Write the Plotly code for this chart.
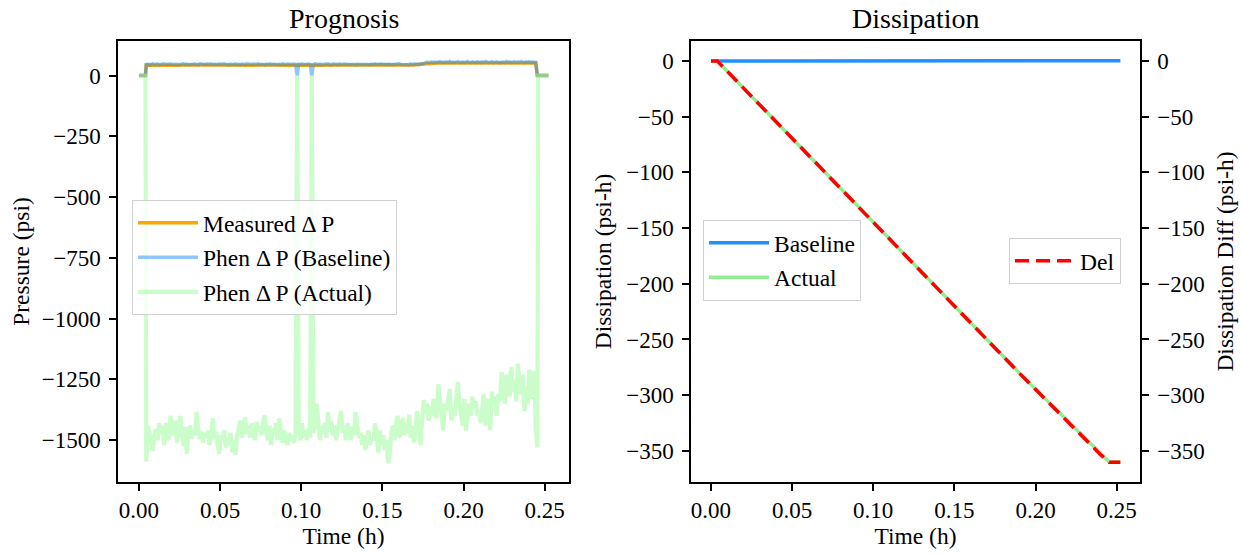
import numpy as np
import plotly.graph_objects as go

# ---------------- data ----------------
# Prognosis: fine time grid of active period (h)
t_start = 0.0045
t_step = 0.001
n_fine = 241
t_fine = [round(t_start + t_step * i, 4) for i in range(n_fine)]
t_lead = [0.0, 0.004]
t_tail = [0.2455, 0.2460, 0.2523]

phen_actual = [
    -1588, -1440, -1470, -1500, -1545, -1480, -1455, -1500, -1430, -1475,
    -1440, -1520, -1430, -1460, -1500, -1400, -1445, -1480, -1420, -1510,
    -1460, -1400, -1470, -1525, -1445, -1555, -1470, -1440, -1495, -1455,
    -1480, -1385, -1450, -1495, -1465, -1510, -1470, -1490, -1460, -1520,
    -1480, -1410, -1495, -1465, -1520, -1555, -1480, -1500, -1460, -1530,
    -1490, -1520, -1470, -1550, -1500, -1560, -1480, -1450, -1420, -1490,
    -1445, -1405, -1475, -1440, -1490, -1430, -1460, -1500, -1425, -1465,
    -1440, -1480, -1430, -1398, -1470, -1500, -1440, -1520, -1450, -1480,
    -1430, -1500, -1410, -1470, -1510, -1460, -1490, -1520, -1470, -1500,
    -1480, -1510, -1470, 0, -1470, -1500, -1430, -1490, -1460, -1500,
    -1450, -1490, 0, -1470, -1440, -1350, -1420, -1500, -1440, -1470,
    -1430, -1490, -1385, -1450, -1420, -1480, -1440, -1500, -1460, -1420,
    -1380, -1470, -1440, -1500, -1430, -1460, -1500, -1445, -1480, -1385,
    -1450, -1490, -1470, -1520, -1480, -1540, -1500, -1460, -1520, -1490,
    -1500, -1430, -1480, -1550, -1460, -1520, -1480, -1540, -1500, -1595,
    -1560, -1470, -1440, -1500, -1430, -1400, -1490, -1450, -1410, -1480,
    -1430, -1470, -1395, -1490, -1440, -1510, -1420, -1380, -1460, -1520,
    -1420, -1335, -1390, -1350, -1420, -1360, -1400, -1330, -1380, -1410,
    -1270, -1320, -1400, -1460, -1350, -1380, -1330, -1290, -1420, -1360,
    -1400, -1330, -1260, -1350, -1390, -1440, -1330, -1460, -1380, -1350,
    -1400, -1320, -1370, -1340, -1400, -1380, -1430, -1360, -1310, -1440,
    -1390, -1330, -1460, -1300, -1360, -1320, -1400, -1310, -1340, -1220,
    -1290, -1350, -1230, -1270, -1320, -1200, -1300, -1250, -1340, -1185,
    -1260, -1310, -1230, -1380, -1280, -1350, -1210, -1330, -1260, -1215,
    -1450,
]
phen_actual_lead = [0, 0]
phen_actual_tail = [-1530, 0, 0]

phen_baseline = [
    45, 47, 44, 46, 48, 45, 46, 47, 44, 46,
    45, 48, 45, 46, 44, 47, 45, 45, 48, 46,
    44, 46, 45, 48, 45, 47, 44, 45, 46, 45,
    47, 45, 44, 48, 46, 45, 45, 47, 45, 46,
    48, 45, 46, 44, 45, 47, 45, 46, 48, 45,
    44, 46, 45, 47, 45, 48, 45, 46, 44, 47,
    45, 45, 48, 46, 44, 45, 47, 45, 46, 48,
    45, 46, 45, 44, 47, 45, 48, 45, 46, 45,
    47, 44, 46, 45, 48, 45, 45, 47, 46, 44,
    45, 47, 45, 0, 46, 45, 48, 45, 44, 46,
    47, 45, 0, 45, 48, 46, 45, 47, 44, 45,
    46, 45, 48, 45, 44, 47, 45, 46, 45, 48,
    45, 46, 44, 47, 45, 45, 48, 46, 45, 44,
    47, 45, 45, 46, 48, 45, 45, 44, 47, 46,
    45, 48, 45, 46, 44, 47, 45, 46, 45, 48,
    46, 44, 45, 47, 45, 46, 48, 45, 45, 47,
    45, 46, 44, 48, 45, 47, 45, 46, 45, 48,
    47, 50, 53, 55, 53, 54, 56, 53, 55, 53,
    54, 57, 53, 55, 53, 56, 54, 58, 53, 55,
    53, 55, 57, 54, 53, 56, 53, 55, 58, 54,
    53, 56, 54, 53, 57, 55, 53, 56, 54, 58,
    55, 53, 54, 57, 53, 55, 56, 53, 54, 57,
    55, 53, 58, 54, 56, 53, 55, 57, 53, 56,
    54, 58, 55, 53, 56, 54, 57, 53, 55, 54,
    53,
]
phen_baseline_lead = [0, 0]
phen_baseline_tail = [0, 0, 0]

# Measured dP on a coarser grid
t_meas = [round(0.0045 + 0.005 * k, 4) for k in range(49)]
measured = [
    43, 42, 44, 43, 42, 43, 44, 42, 43, 43,
    42, 44, 43, 42, 43, 44, 43, 42, 43, 44,
    43, 42, 43, 44, 42, 43, 43, 44, 42, 43,
    44, 43, 42, 43, 47, 51, 52, 51, 52, 52,
    51, 51, 52, 51, 52, 51, 51, 52, 51,
]
measured_lead = [0, 0]
measured_tail = [0, 0, 0]

# Dissipation
t_diss = [0.0, 0.004, 0.01, 0.02, 0.03, 0.04, 0.05, 0.06, 0.07, 0.08, 0.09,
          0.10, 0.11, 0.12, 0.13, 0.14, 0.15, 0.16, 0.17, 0.18, 0.19, 0.20,
          0.21, 0.22, 0.23, 0.24, 0.2455, 0.2523]
diss_baseline = [0, 0, 0.01, 0.02, 0.03, 0.04, 0.05, 0.07, 0.08, 0.09, 0.10,
                 0.12, 0.13, 0.14, 0.15, 0.17, 0.18, 0.19, 0.20, 0.22, 0.23,
                 0.24, 0.25, 0.27, 0.28, 0.29, 0.30, 0.30]
diss_actual = [0, 0, -9.1, -24.2, -39.3, -54.4, -69.5, -84.6, -99.7, -114.8,
               -129.9, -145.0, -160.1, -175.2, -190.3, -205.4, -220.5, -235.6,
               -250.7, -265.4, -280.0, -294.6, -309.2, -323.8, -338.4, -353.0,
               -360.0, -360.0]
diss_del = [0, 0, -9.1, -24.2, -39.3, -54.4, -69.6, -84.7, -99.8, -114.9,
            -130.0, -145.1, -160.2, -175.3, -190.5, -205.6, -220.7, -235.8,
            -250.9, -265.6, -280.2, -294.8, -309.5, -324.1, -338.7, -353.3,
            -360.3, -360.3]

x_ticks = [0.0, 0.05, 0.10, 0.15, 0.20, 0.25]
x_tick_labels = ["0.00", "0.05", "0.10", "0.15", "0.20", "0.25"]
p_ticks = [0, -250, -500, -750, -1000, -1250, -1500]
p_tick_labels = ["0", "\u2212250", "\u2212500", "\u2212750", "\u22121000", "\u22121250", "\u22121500"]
d_ticks = [0, -50, -100, -150, -200, -250, -300, -350]
d_tick_labels = ["0", "\u221250", "\u2212100", "\u2212150", "\u2212200", "\u2212250", "\u2212300", "\u2212350"]

# ---------------- figure ----------------
W, H = 1241, 554
FONT = "Liberation Serif, Times New Roman, serif"
TICK_FS = 23
LABEL_FS = 23.5
LEG_FS = 23.5
TITLE_FS = 28

fig = go.Figure()

fig.add_trace(go.Scatter(
    x=t_lead + t_meas + t_tail, y=measured_lead + measured + measured_tail,
    mode="lines", name="Measured \u0394 P", line=dict(color="orange", width=3.5),
    xaxis="x", yaxis="y", legend="legend", legendgroup="a"))
fig.add_trace(go.Scatter(
    x=t_lead + t_fine + t_tail, y=phen_baseline_lead + phen_baseline + phen_baseline_tail,
    mode="lines", name="Phen \u0394 P (Baseline)", line=dict(color="rgba(30,144,255,0.5)", width=3.5),
    xaxis="x", yaxis="y", legend="legend", legendgroup="b"))
fig.add_trace(go.Scatter(
    x=t_lead + t_fine + t_tail, y=phen_actual_lead + phen_actual + phen_actual_tail,
    mode="lines", name="Phen \u0394 P (Actual)", line=dict(color="rgba(152,251,152,0.5)", width=4.2),
    xaxis="x", yaxis="y", legend="legend", legendgroup="c"))

fig.add_trace(go.Scatter(
    x=t_diss, y=diss_baseline, mode="lines", name="Baseline",
    line=dict(color="#1E90FF", width=3.5), xaxis="x2", yaxis="y2",
    legend="legend2", legendgroup="d"))
fig.add_trace(go.Scatter(
    x=t_diss, y=diss_actual, mode="lines", name="Actual",
    line=dict(color="#90EE90", width=3.5), xaxis="x2", yaxis="y2",
    legend="legend2", legendgroup="e"))
fig.add_trace(go.Scatter(
    x=t_diss, y=diss_del, mode="lines", name="Del",
    line=dict(color="red", width=3.5, dash="14px,7px"), xaxis="x2", yaxis="y3",
    legend="legend3", legendgroup="f"))

ax_common = dict(
    showline=True, linecolor="black", linewidth=1.5, mirror=True,
    ticks="outside", ticklen=7, tickwidth=1.5, tickcolor="black",
    showgrid=False, zeroline=False,
    tickfont=dict(family=FONT, size=TICK_FS, color="black"),
)

x_dom1 = [118 / W, 569 / W]
x_dom2 = [691 / W, 1140 / W]
y_dom = [1 - 482 / H, 1 - 41 / H]

legend_common = dict(
    font=dict(family=FONT, size=LEG_FS, color="black"),
    bgcolor="rgba(255,255,255,0.8)", bordercolor="#d0d0d0", borderwidth=1,
    xanchor="left", yanchor="top", traceorder="grouped", tracegroupgap=1,
    itemwidth=60,
)

def ttl(text, standoff):
    return dict(text=text, font=dict(family=FONT, size=LABEL_FS, color="black"), standoff=standoff)

fig.update_layout(
    width=W, height=H,
    margin=dict(l=0, r=0, t=0, b=0),
    paper_bgcolor="white", plot_bgcolor="white",
    font=dict(family=FONT, size=TICK_FS, color="black"),
    xaxis=dict(domain=x_dom1, anchor="y", range=[-0.0129, 0.265],
               tickvals=x_ticks, ticktext=x_tick_labels,
               title=ttl("Time (h)", 5), **ax_common),
    yaxis=dict(domain=y_dom, anchor="x", range=[-1672, 142],
               tickvals=p_ticks, ticktext=p_tick_labels, ticklabelstandoff=4,
               title=ttl("Pressure (psi)", 5), **ax_common),
    xaxis2=dict(domain=x_dom2, anchor="y2", range=[-0.0123, 0.2644],
                tickvals=x_ticks, ticktext=x_tick_labels,
                title=ttl("Time (h)", 5), **ax_common),
    yaxis2=dict(domain=y_dom, anchor="x2", range=[-378, 18],
                tickvals=d_ticks, ticktext=d_tick_labels, ticklabelstandoff=4,
                title=ttl("Dissipation (psi-h)", 8), **ax_common),
    yaxis3=dict(domain=y_dom, anchor="x2", overlaying="y2", side="right", range=[-378, 18],
                tickvals=d_ticks, ticktext=d_tick_labels, ticklabelstandoff=4,
                title=ttl("Dissipation Diff (psi-h)", 13), **ax_common),
    legend=dict(x=132 / W, y=1 - 200 / H, **legend_common),
    legend2=dict(x=703 / W, y=1 - 220 / H, **legend_common),
    legend3=dict(x=1009 / W, y=1 - 238 / H, **legend_common),
    annotations=[
        dict(text="Prognosis", x=(x_dom1[0] + x_dom1[1]) / 2, y=1 - 18 / H,
             xref="paper", yref="paper", showarrow=False,
             font=dict(family=FONT, size=TITLE_FS, color="black"),
             xanchor="center", yanchor="middle"),
        dict(text="Dissipation", x=(x_dom2[0] + x_dom2[1]) / 2, y=1 - 18 / H,
             xref="paper", yref="paper", showarrow=False,
             font=dict(family=FONT, size=TITLE_FS, color="black"),
             xanchor="center", yanchor="middle"),
    ],
)

fig.write_html("out.html")
